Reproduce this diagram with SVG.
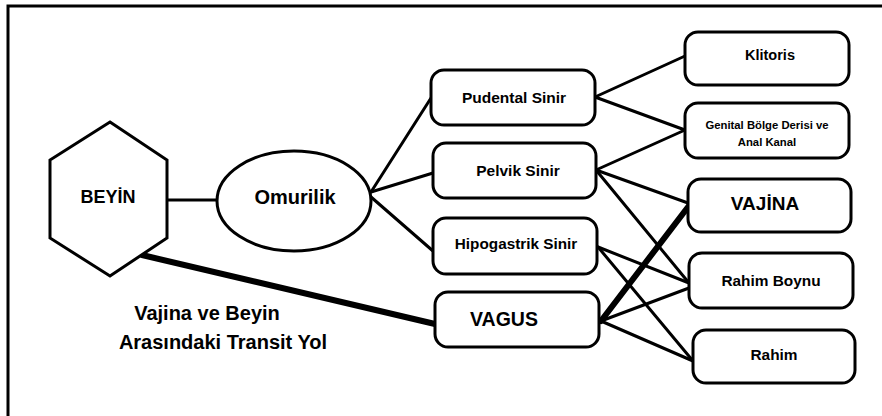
<svg xmlns="http://www.w3.org/2000/svg" width="882" height="416" viewBox="0 0 882 416">
<style>
.box{fill:#fff;stroke:#000;stroke-width:3}
.t{font-family:"Liberation Sans",Arial,sans-serif;font-weight:bold;fill:#000;text-anchor:middle}
.c{stroke:#000;stroke-width:3;fill:none;stroke-linecap:round}
.ck{stroke:#000;stroke-width:6;fill:none;stroke-linecap:round}
</style>
<rect width="882" height="416" fill="#fff"/>
<path d="M8,416 V6 H882" fill="none" stroke="#000" stroke-width="3"/>
<g id="connectors">
<line class="c" x1="167" y1="200" x2="218" y2="200"/>
<line class="ck" x1="142" y1="255" x2="435" y2="324"/>
<line class="c" x1="371" y1="192" x2="431" y2="98"/>
<line class="c" x1="371" y1="192" x2="433" y2="173"/>
<line class="c" x1="371" y1="197" x2="433" y2="251"/>
<line class="c" x1="595" y1="97" x2="685" y2="56"/>
<line class="c" x1="595" y1="97" x2="685" y2="130"/>
<line class="c" x1="596" y1="170" x2="685" y2="130"/>
<line class="c" x1="596" y1="170" x2="688" y2="203"/>
<line class="c" x1="596" y1="170" x2="689" y2="283"/>
<line class="c" x1="598" y1="247" x2="689" y2="283"/>
<line class="c" x1="598" y1="247" x2="693" y2="361"/>
<line class="ck" x1="601" y1="321" x2="688" y2="207"/>
<line class="c" x1="601" y1="321" x2="689" y2="288"/>
<line class="c" x1="601" y1="321" x2="693" y2="361"/>
</g>
<g id="beyin">
<polygon class="box" points="110,122 167,160 167,238 110,276 50,238 50,160"/>
<text class="t" x="108" y="203" font-size="18">BEYİN</text>
</g>
<g id="omurilik">
<ellipse class="box" cx="294" cy="201" rx="77" ry="50"/>
<text class="t" x="295" y="204" font-size="20">Omurilik</text>
</g>
<g id="pudental">
<rect class="box" x="431" y="70" width="164" height="55" rx="13"/>
<text class="t" x="514" y="103" font-size="15.5">Pudental Sinir</text>
</g>
<g id="pelvik">
<rect class="box" x="433" y="143" width="163" height="55" rx="13"/>
<text class="t" x="518" y="176" font-size="15.5">Pelvik Sinir</text>
</g>
<g id="hipogastrik">
<rect class="box" x="433" y="218" width="164" height="56" rx="13"/>
<text class="t" x="516" y="249" font-size="15.3">Hipogastrik Sinir</text>
</g>
<g id="vagus">
<rect class="box" x="435" y="292" width="164" height="55" rx="13"/>
<text class="t" x="504" y="326" font-size="19.5">VAGUS</text>
</g>
<g id="klitoris">
<rect class="box" x="685" y="32" width="164" height="53" rx="13"/>
<text class="t" x="770" y="60" font-size="14.5">Klitoris</text>
</g>
<g id="genital">
<rect class="box" x="685" y="103" width="164" height="55" rx="13"/>
<text class="t" x="767" y="129" font-size="11.3">Genital Bölge Derisi ve</text>
<text class="t" x="767" y="146" font-size="11.3">Anal Kanal</text>
</g>
<g id="vajina">
<rect class="box" x="688" y="179" width="163" height="53" rx="13"/>
<text class="t" x="765" y="210" font-size="19">VAJİNA</text>
</g>
<g id="rahimboynu">
<rect class="box" x="689" y="253" width="164" height="55" rx="13"/>
<text class="t" x="771" y="286" font-size="15.4">Rahim Boynu</text>
</g>
<g id="rahim">
<rect class="box" x="693" y="330" width="162" height="53" rx="13"/>
<text class="t" x="774" y="360" font-size="15.4">Rahim</text>
</g>
<g id="caption">
<text class="t" x="207" y="320" font-size="20">Vajina ve Beyin</text>
<text class="t" x="223" y="349" font-size="20">Arasındaki Transit Yol</text>
</g>
</svg>
